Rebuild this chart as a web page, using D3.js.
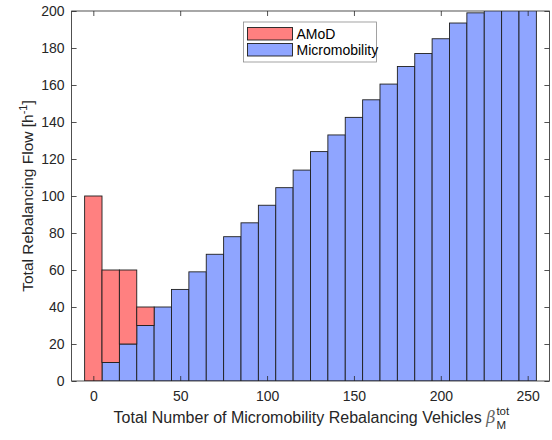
<!DOCTYPE html>
<html>
<head>
<meta charset="utf-8">
<script src="https://cdn.jsdelivr.net/npm/d3@7"></script>
<style>
  body { margin: 0; background: #fff; }
  svg { display: block; font-family: "Liberation Sans", Arial, sans-serif; }
</style>
</head>
<body>
<div class="chart"></div>
<script>
// data
const vehicles = [0, 10, 20, 30, 40, 50, 60, 70, 80, 90, 100, 110, 120, 130, 140, 150, 160, 170, 180, 190, 200, 210, 220, 230, 240, 250];
const micro = [0, 10, 20, 30, 40, 49.5, 59, 68.5, 78, 85.5, 95, 104.5, 114, 124, 133, 142.5, 152, 160.5, 170, 177, 185, 193.5, 199, 206, 212, 218];
const amod = [100, 50, 40, 10, 0, 0, 0, 0, 0, 0, 0, 0, 0, 0, 0, 0, 0, 0, 0, 0, 0, 0, 0, 0, 0, 0];
const seriesNames = ["AMoD", "Micromobility"];
const xTicks = [0, 50, 100, 150, 200, 250];
const yTicks = [0, 20, 40, 60, 80, 100, 120, 140, 160, 180, 200];

const colors = { amod: "#ff8080", micro: "#8fa5ff" };

const svgWidth = 552, svgHeight = 440;
const margin = { top: 11, right: 2.6, bottom: 59, left: 71.6 };
const width = svgWidth - margin.left - margin.right;
const height = svgHeight - margin.top - margin.bottom;

const svg = d3.select(".chart")
  .append("svg")
  .attr("width", svgWidth)
  .attr("height", svgHeight);

const g = svg.append("g")
  .attr("transform", `translate(${margin.left},${margin.top})`);

const x = d3.scaleLinear().domain([-12.5, 262.5]).range([0, width]);
const y = d3.scaleLinear().domain([0, 200]).range([height, 0]);

g.append("clipPath").attr("id", "clip")
  .append("rect").attr("width", width).attr("height", height);

// stack: micromobility at the bottom, AMoD on top
const rows = vehicles.map((v, i) => ({ v, micro: micro[i], amod: amod[i] }));
const stacked = d3.stack().keys(["micro", "amod"])(rows);

const barW = x(5) - x(-5);

g.append("g").attr("clip-path", "url(#clip)")
  .selectAll(".layer")
  .data(stacked)
  .enter().append("g")
  .attr("class", "layer")
  .attr("fill", d => colors[d.key])
  .selectAll("rect")
  .data(d => d.filter(s => s[1] - s[0] > 0))
  .enter().append("rect")
  .attr("x", d => x(d.data.v) - barW / 2)
  .attr("y", d => y(d[1]))
  .attr("width", barW)
  .attr("height", d => y(d[0]) - y(d[1]))
  .attr("stroke", "#1e1e1e")
  .attr("stroke-width", 0.9);

// axes (ticks point inward, like the original)
const axisColor = "#262626";
const xAxis = g.append("g")
  .attr("transform", `translate(0,${height})`)
  .call(d3.axisBottom(x).tickValues(xTicks).tickSizeInner(-5).tickSizeOuter(0).tickPadding(10));
const xTop = g.append("g")
  .call(d3.axisTop(x).tickValues(xTicks).tickSizeInner(-5).tickSizeOuter(0).tickFormat(""));
const yAxis = g.append("g")
  .call(d3.axisLeft(y).tickValues(yTicks).tickSizeInner(-5).tickSizeOuter(0).tickPadding(7));
const yRight = g.append("g")
  .attr("transform", `translate(${width},0)`)
  .call(d3.axisRight(y).tickValues(yTicks).tickSizeInner(-5).tickSizeOuter(0).tickFormat(""));

[xAxis, xTop, yAxis, yRight].forEach(a => {
  a.select(".domain").remove();
  a.selectAll("line").attr("stroke", axisColor).attr("stroke-width", 0.8);
  a.selectAll("text").attr("fill", axisColor).style("font-size", "14px").style("font-family", "Liberation Sans, Arial, sans-serif");
});

// box
g.append("rect")
  .attr("width", width).attr("height", height)
  .attr("fill", "none").attr("stroke", axisColor).attr("stroke-width", 0.8);

// x label with beta_M^tot
const xlBase = height + 42;
const xl = g.append("text")
  .attr("x", width / 2 - 6).attr("y", xlBase)
  .attr("text-anchor", "middle")
  .attr("fill", axisColor)
  .style("font-size", "16px");
xl.append("tspan").text("Total Number of Micromobility Rebalancing Vehicles ");
xl.append("tspan").text("\u03b2").style("font-family", "DejaVu Serif, serif").style("font-style", "italic").attr("fill", "#666");
const xlBox = xl.node().getBBox();
const xEnd = xlBox.x + xlBox.width;
g.append("text").attr("x", xEnd + 1).attr("y", xlBase - 8)
  .attr("fill", axisColor).style("font-size", "11.5px").text("tot");
g.append("text").attr("x", xEnd + 1).attr("y", xlBase + 6)
  .attr("fill", axisColor).style("font-size", "11.5px").text("M");

// y label
const yl = g.append("text")
  .attr("transform", `translate(${-39},${height / 2}) rotate(-90)`)
  .attr("text-anchor", "middle")
  .attr("fill", axisColor)
  .style("font-size", "15.5px");
yl.append("tspan").text("Total Rebalancing Flow [h");
yl.append("tspan").text("-1").attr("dy", -6).style("font-size", "11px");
yl.append("tspan").text("]").attr("dy", 6);

// legend
const legend = svg.append("g").attr("transform", "translate(243.5,22)");
legend.append("rect")
  .attr("width", 133).attr("height", 40)
  .attr("fill", "#fff").attr("stroke", "#8c8c8c").attr("stroke-width", 0.8);
const legendKeys = ["amod", "micro"];
legendKeys.forEach((k, i) => {
  legend.append("rect")
    .attr("x", 4).attr("y", 5.5 + i * 16)
    .attr("width", 45).attr("height", 12.5)
    .attr("fill", colors[k]).attr("stroke", "#1e1e1e").attr("stroke-width", 0.9);
  legend.append("text")
    .attr("x", 53).attr("y", 16.5 + i * 16)
    .attr("fill", "#000")
    .style("font-size", "14px")
    .text(seriesNames[i]);
});
</script>
</body>
</html>
